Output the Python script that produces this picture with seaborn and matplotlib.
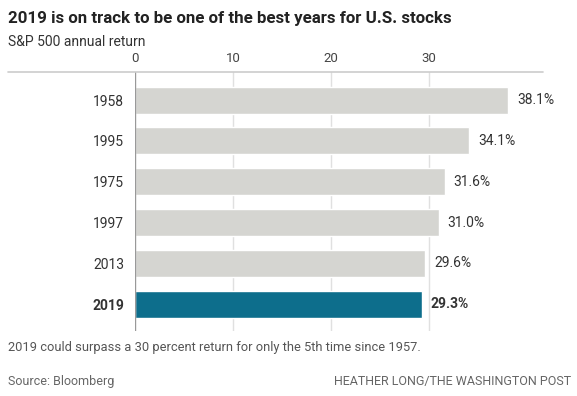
import matplotlib
matplotlib.use("Agg")
import matplotlib.pyplot as plt
import seaborn as sns
import pandas as pd
from matplotlib.lines import Line2D

years = ["1958", "1995", "1975", "1997", "2013", "2019"]
returns = [38.1, 34.1, 31.6, 31.0, 29.6, 29.3]
labels = ["38.1%", "34.1%", "31.6%", "31.0%", "29.6%", "29.3%"]
xticks = [0, 10, 20, 30]

sns.set_theme(style="white")
plt.rcParams['font.family'] = ['Roboto', 'DejaVu Sans']

df = pd.DataFrame({"year": years, "ret": returns})
colors = ["#d5d5d1"] * 5 + ["#0d6e8c"]

fig = plt.figure(figsize=(5.77, 3.96), dpi=100)
ax = fig.add_axes([135/577, 1-331/396, (543-135)/577, (331-72)/396])

sns.barplot(data=df, y="year", x="ret", hue="year", palette=colors, legend=False,
            orient="h", width=0.66, ax=ax, zorder=3, saturation=1)

ax.set_xlim(0, (543-135)/9.8)
ax.set_ylim(5.66, -0.69)
for s in ax.spines.values():
    s.set_visible(False)
ax.xaxis.tick_top()
ax.set_xticks(xticks)
ax.set_xticklabels([str(t) for t in xticks], fontsize=9.5, color="#444444")
ax.tick_params(axis="x", length=0, pad=5)
ax.set_xlabel("")
ax.set_ylabel("")
for t in xticks:
    ax.axvline(t, color="#999999" if t == 0 else "#e0e0e0", lw=1, zorder=1 if t else 4)
ax.set_yticks(range(len(years)))
ax.set_yticklabels(years, fontsize=10, color="#333333")
ax.tick_params(axis="y", length=0, pad=8)
ax.get_yticklabels()[-1].set_fontweight("bold")

for i, (v, lab) in enumerate(zip(returns, labels)):
    ax.text(v + 0.9, i, lab, va="center", ha="left", fontsize=10, color="#333333",
            fontweight="bold" if i == len(years) - 1 else "normal")

fig.add_artist(Line2D([8/577, 543/577], [1-72/396, 1-72/396], color="#cccccc", lw=1.2))

fig.text(8/577, 1-18/396, "2019 is on track to be one of the best years for U.S. stocks",
         fontsize=12.2, fontweight="bold", color="#222222", va="center", ha="left")
fig.text(8/577, 1-42/396, "S&P 500 annual return", fontsize=10, color="#333333",
         va="center", ha="left")
fig.text(8/577, 1-347/396, "2019 could surpass a 30 percent return for only the 5th time since 1957.",
         fontsize=9.3, color="#555555", va="center", ha="left")
fig.text(8/577, 1-381/396, "Source: Bloomberg", fontsize=9, color="#666666", va="center", ha="left")
fig.text(571/577, 1-381/396, "HEATHER LONG/THE WASHINGTON POST", fontsize=9, color="#666666",
         va="center", ha="right")

fig.savefig("out.png", dpi=100, facecolor="white")
